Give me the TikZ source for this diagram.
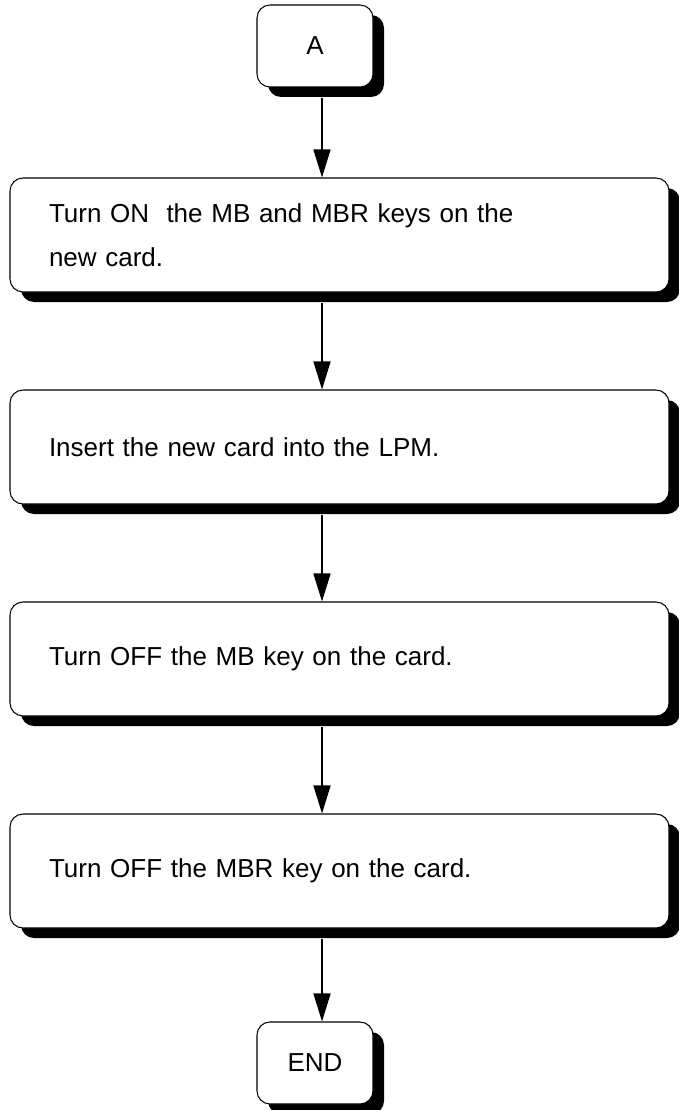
\documentclass[tikz,border=0pt]{standalone}
\usepackage{fontspec}
\setmainfont{Liberation Sans}
\usetikzlibrary{arrows.meta, shadows}

\begin{document}
\begin{tikzpicture}[
    font=\fontsize{14.8}{25}\selectfont,
    terminal/.style={
        rectangle, rounded corners=0.26cm, draw=black, line width=0.6pt,
        fill=white,
        drop shadow={shadow xshift=0.22cm, shadow yshift=-0.2cm, opacity=1, fill=black},
        minimum width=2.32cm, minimum height=1.64cm, align=center
    },
    stepbox/.style={
        rectangle, rounded corners=0.26cm, draw=black, line width=0.6pt,
        fill=white,
        drop shadow={shadow xshift=0.22cm, shadow yshift=-0.2cm, opacity=1, fill=black},
        text width=11.62cm, inner xsep=0.78cm, inner ysep=0pt,
        minimum height=2.28cm, align=left
    },
    flow/.style={draw=black, line width=0.9pt, -{Triangle[length=0.56cm, width=0.34cm]}}
]
\useasboundingbox (0,0) rectangle (13.58,-22.2);

% -------------------------
% Start and end
% -------------------------
\node[terminal] (Start) at (6.3, -0.92) {A};
\node[terminal] (End) at (6.3, -21.26) {END};

% -------------------------
% Steps
% -------------------------
\node[stepbox] (Step1) at (6.79, -4.70) {Turn ON~ the MB and MBR keys on the\\new card.};
\node[stepbox] (Step2) at (6.79, -8.94) {Insert the new card into the LPM.};
\node[stepbox] (Step3) at (6.79, -13.18) {Turn OFF the MB key on the card.};
\node[stepbox] (Step4) at (6.79, -17.42) {Turn OFF the MBR key on the card.};

% -------------------------
% Connectors
% -------------------------
\coordinate (Axis) at (6.44, 0);
\draw[flow] ([yshift=-0.2cm]Start.south -| Axis) -- (Step1.north -| Axis);
\draw[flow] ([yshift=-0.2cm]Step1.south -| Axis) -- (Step2.north -| Axis);
\draw[flow] ([yshift=-0.2cm]Step2.south -| Axis) -- (Step3.north -| Axis);
\draw[flow] ([yshift=-0.2cm]Step3.south -| Axis) -- (Step4.north -| Axis);
\draw[flow] ([yshift=-0.2cm]Step4.south -| Axis) -- (End.north -| Axis);

\end{tikzpicture}
\end{document}
